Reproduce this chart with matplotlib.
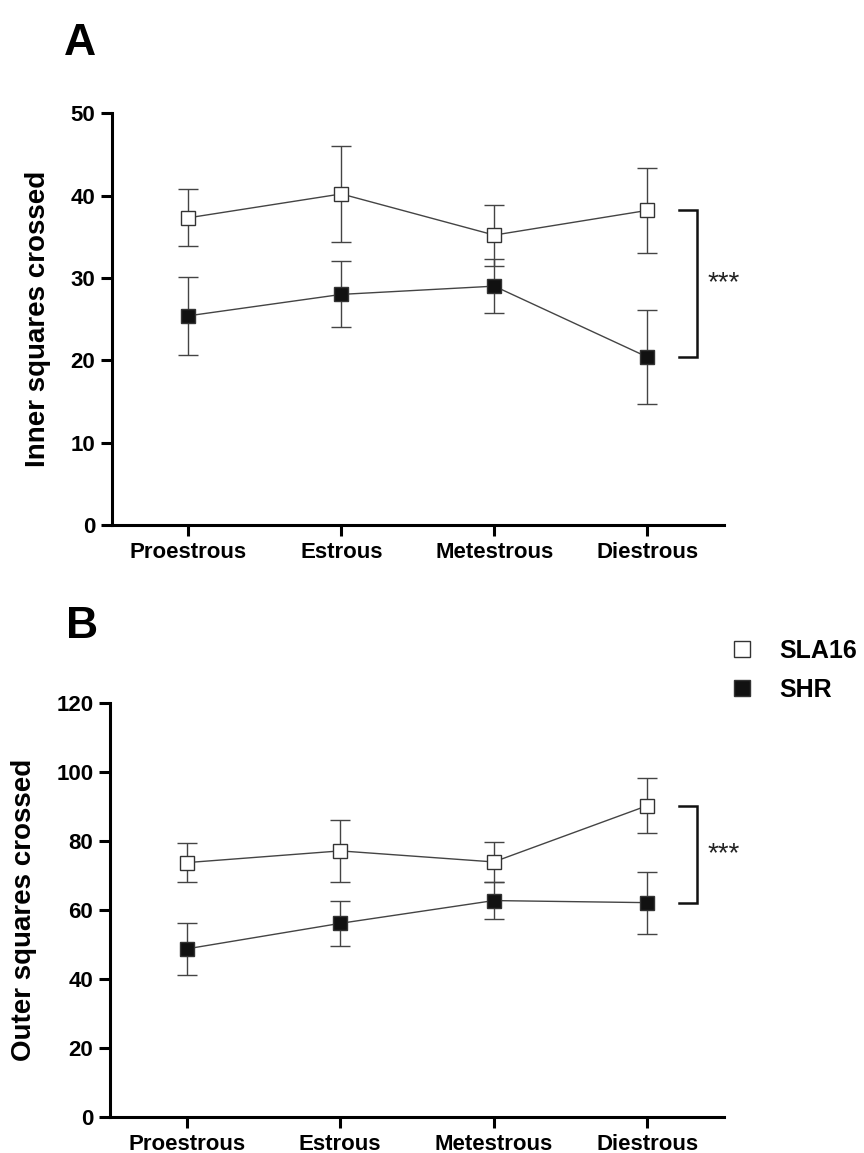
import numpy as np
import matplotlib.pyplot as plt
from matplotlib.lines import Line2D

plt.rcParams['font.family'] = ['Liberation Sans', 'DejaVu Sans']

# Datos
fases = ['Proestrous', 'Estrous', 'Metestrous', 'Diestrous']

inner_sla16 = [37.3, 40.2, 35.2, 38.2]
inner_sla16_err = [3.45, 5.8, 3.7, 5.2]
inner_shr = [25.4, 28.0, 29.0, 20.4]
inner_shr_err = [4.7, 4.0, 3.3, 5.7]

outer_sla16 = [73.8, 77.2, 74.0, 90.3]
outer_sla16_err = [5.6, 9.0, 5.9, 8.0]
outer_shr = [48.8, 56.2, 62.8, 62.2]
outer_shr_err = [7.5, 6.5, 5.4, 9.0]

x = np.arange(len(fases))

fig = plt.figure(figsize=(8.64, 11.53), dpi=100)
axA = fig.add_axes([0.1296, 0.5447, 0.708, 0.3571])
axB = fig.add_axes([0.1273, 0.0310, 0.7106, 0.3591])

linea = '#444444'
borde = '#333333'


def panel(ax, sla, sla_err, shr, shr_err, ymax, paso, etiqueta, pad):
    ax.errorbar(x, sla, yerr=sla_err, color=linea, lw=1, elinewidth=1,
                capsize=7, capthick=1, marker='s', ms=10, mfc='white',
                mec=borde, mew=1, zorder=3)
    ax.errorbar(x, shr, yerr=shr_err, color=linea, lw=1, elinewidth=1,
                capsize=7, capthick=1, marker='s', ms=10, mfc='#111111',
                mec=borde, mew=1, zorder=3)
    ax.set_xlim(-0.5, len(fases) - 0.5)
    ax.set_ylim(0, ymax)
    ax.set_yticks(np.arange(0, ymax + 1, paso))
    ax.set_xticks(x)
    ax.set_xticklabels(fases)
    ax.spines['top'].set_visible(False)
    ax.spines['right'].set_visible(False)
    for s in ['left', 'bottom']:
        ax.spines[s].set_linewidth(2.2)
    ax.tick_params(width=2.2, length=8, direction='out', labelsize=16, pad=4)
    for t in ax.get_xticklabels() + ax.get_yticklabels():
        t.set_fontweight('bold')
    ax.set_ylabel(etiqueta, fontsize=20, fontweight='bold', labelpad=pad)

    # corchete de significancia entre las dos series en Diestrous
    top, bot = sla[-1], shr[-1]
    xb0, xb1 = x[-1] + 0.21, x[-1] + 0.325
    ax.plot([xb0, xb1, xb1, xb0], [top, top, bot, bot], color='#111111',
            lw=1.8, clip_on=False, solid_joinstyle='miter')
    ax.text(xb1 + 0.07, (top + bot) / 2, '***', fontsize=20,
            va='center', ha='left', color='#222222')


panel(axA, inner_sla16, inner_sla16_err, inner_shr, inner_shr_err, 50, 10,
      'Inner squares crossed', 14)
panel(axB, outer_sla16, outer_sla16_err, outer_shr, outer_shr_err, 120, 20,
      'Outer squares crossed', 14)

fig.text(0.074, 0.962, 'A', fontsize=32, fontweight='bold', va='center')
fig.text(0.076, 0.457, 'B', fontsize=32, fontweight='bold', va='center')

handles = [
    Line2D([], [], ls='none', marker='s', ms=11, mfc='white', mec=borde, mew=1),
    Line2D([], [], ls='none', marker='s', ms=11, mfc='#111111', mec=borde, mew=1),
]
fig.legend(handles, ['SLA16', 'SHR'], loc='upper left',
           bbox_to_anchor=(0.8443, 0.4458), frameon=False, borderpad=0,
           borderaxespad=0, handlelength=1.0, handletextpad=1.0,
           labelspacing=0.6, prop={'weight': 'bold', 'size': 18})

plt.savefig('out.png', dpi=100)
